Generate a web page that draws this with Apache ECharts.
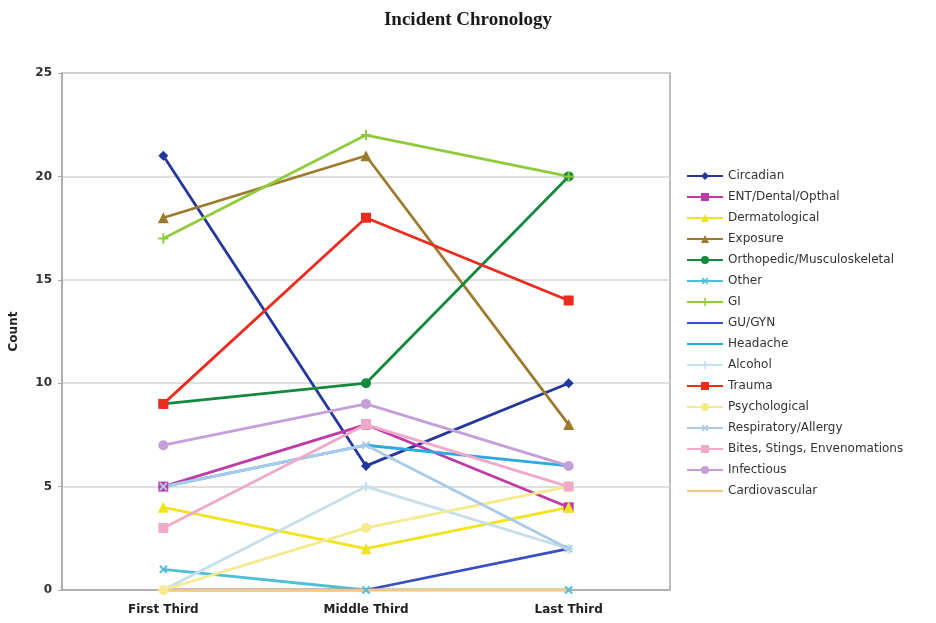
<!DOCTYPE html>
<html>
<head>
<meta charset="utf-8">
<script src="https://cdn.jsdelivr.net/npm/echarts@6/dist/echarts.min.js"></script>
<style>
  html, body { margin: 0; padding: 0; background: #ffffff; }
  #chart { width: 936px; height: 623px; }
</style>
</head>
<body>
<div id="chart"></div>
<script>
// categories and counts
var categories = ['First Third', 'Middle Third', 'Last Third'];

var circadian     = [21, 6, 10];
var ent           = [5, 8, 4];
var dermatological = [4, 2, 4];
var exposure      = [18, 21, 8];
var orthopedic    = [9, 10, 20];
var other         = [1, 0, 0];
var gi            = [17, 22, 20];
var gugyn         = [0, 0, 2];
var headache      = [5, 7, 6];
var alcohol       = [0, 5, 2];
var trauma        = [9, 18, 14];
var psychological = [0, 3, 5];
var respiratory   = [5, 7, 2];
var bites         = [3, 8, 5];
var infectious    = [7, 9, 6];
var cardiovascular = [0, 0, 0];

var yTicks = [0, 5, 10, 15, 20, 25];

var plus = 'path://M4,0H6V4H10V6H6V10H4V6H0V4H4Z';

// name, data, colour, marker, marker rotation
var seriesDefs = [
    ['Circadian', circadian, '#24379c', 'diamond', 0],
    ['ENT/Dental/Opthal', ent, '#c03aa6', 'rect', 0],
    ['Dermatological', dermatological, '#f0e41c', 'triangle', 0],
    ['Exposure', exposure, '#9c7b2e', 'triangle', 0],
    ['Orthopedic/Musculoskeletal', orthopedic, '#12893c', 'circle', 0],
    ['Other', other, '#4ebfd6', plus, 45],
    ['GI', gi, '#8fcb3c', plus, 0],
    ['GU/GYN', gugyn, '#3a4fc0', 'none', 0],
    ['Headache', headache, '#2ea9e0', 'none', 0],
    ['Alcohol', alcohol, '#c6dfeb', plus, 0],
    ['Trauma', trauma, '#ee2b1f', 'rect', 0],
    ['Psychological', psychological, '#f3eb8e', 'circle', 0],
    ['Respiratory/Allergy', respiratory, '#a9cbe8', plus, 45],
    ['Bites, Stings, Envenomations', bites, '#f0a9c9', 'rect', 0],
    ['Infectious', infectious, '#c49fd8', 'circle', 0],
    ['Cardiovascular', cardiovascular, '#f7c786', 'none', 0]
];

var chart = echarts.init(document.getElementById('chart'));

var option = {
    animation: false,
    backgroundColor: '#ffffff',
    title: {
        text: 'Incident Chronology',
        left: 'center',
        top: 6,
        textStyle: {
            fontFamily: 'Liberation Serif',
            fontWeight: 'bold',
            fontSize: 19,
            color: '#1a1a1a'
        }
    },
    legend: {
        orient: 'vertical',
        left: 681,
        top: 164,
        itemWidth: 36,
        itemHeight: 10,
        itemGap: 7,
        // marker-less series show only their line in the legend
        data: seriesDefs.map(function (s) {
            if (s[3] === 'none') {
                return { name: s[0], itemStyle: { opacity: 0 } };
            }
            return { name: s[0] };
        }),
        textStyle: {
            fontFamily: 'DejaVu Sans',
            fontSize: 12,
            lineHeight: 14,
            color: '#333'
        }
    },
    grid: {
        left: 60,
        right: 266,
        top: 73,
        bottom: 33,
        show: true,
        borderColor: '#a8a8a8',
        borderWidth: 1.5
    },
    xAxis: {
        type: 'category',
        data: categories,
        boundaryGap: true,
        axisTick: { show: false },
        axisLine: { lineStyle: { color: '#a8a8a8', width: 1.5 } },
        axisLabel: {
            fontFamily: 'DejaVu Sans',
            fontWeight: 'bold',
            fontSize: 12,
            color: '#222',
            margin: 14
        }
    },
    yAxis: {
        type: 'value',
        min: yTicks[0],
        max: yTicks[yTicks.length - 1],
        interval: 5,
        name: 'Count',
        nameLocation: 'middle',
        nameGap: 42,
        nameTextStyle: {
            fontFamily: 'DejaVu Sans',
            fontWeight: 'bold',
            fontSize: 12,
            color: '#222'
        },
        axisLine: { show: true, lineStyle: { color: '#a8a8a8', width: 1.5 } },
        axisTick: { show: true, length: 4, lineStyle: { color: '#a8a8a8' } },
        axisLabel: {
            fontFamily: 'DejaVu Sans',
            fontWeight: 'bold',
            fontSize: 12,
            color: '#333',
            margin: 10
        },
        splitLine: { lineStyle: { color: '#d4d4d4', width: 1.5 } }
    },
    series: seriesDefs.map(function (s) {
        return {
            name: s[0],
            type: 'line',
            data: s[1],
            symbol: s[3],
            symbolSize: s[3] === 'triangle' ? 11 : 10,
            symbolRotate: s[4],
            lineStyle: { color: s[2], width: 2.8 },
            itemStyle: { color: s[2] }
        };
    })
};

chart.setOption(option);
</script>
</body>
</html>
